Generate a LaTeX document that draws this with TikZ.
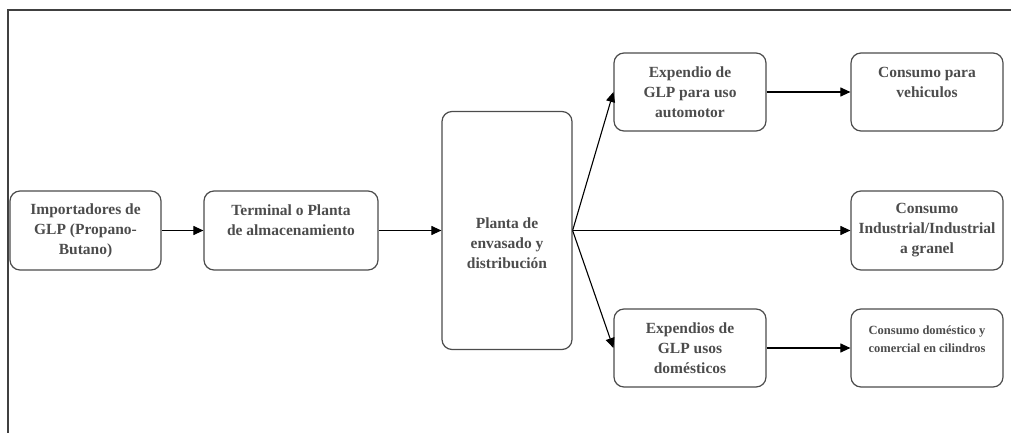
\documentclass[tikz,border=0pt]{standalone}
\usepackage{fontspec}
\setmainfont{Liberation Serif}
\usetikzlibrary{arrows.meta}

\tikzstyle{frame} = [draw,line width=1.4pt,black!75]
\tikzstyle{stage}=[draw,line width=1.2pt,black!70,rounded corners=10pt,align=center,inner sep=0pt,
  font=\fontsize{15.5}{20}\selectfont\bfseries]
\tikzstyle{smalltext}=[font=\fontsize{12.5}{18}\selectfont\bfseries]
\tikzstyle{arrowdecorate}=[->,>={Triangle[length=10pt,width=9pt]},line width=1.1pt]

\begin{document}
\begin{tikzpicture}[x=1pt,y=-1pt]
      \useasboundingbox (0,0) rectangle (1011,433);
      %frame
      \draw[frame] (8,433) |- (1011,10);
      %nodes
      \foreach \nodename/\x/\y/\w/\h/\txt in {
        imp/85.5/230.5/151/79/{Importadores de\\GLP (Propano-\\Butano)},
        term/291/230.5/174/79/{Terminal o Planta\\de almacenamiento\\\mbox{}},
        planta/507/230.5/130/238/{\mbox{}\\[15.5pt]Planta de\\envasado y\\distribución},
        expa/690/92/152/78/{Expendio de\\GLP para uso\\automotor},
        conv/927/92/152/78/{Consumo para\\vehiculos\\\mbox{}},
        coni/927/230.5/152/79/{Consumo\\Industrial/Industrial\\a granel},
        expd/690/348/152/78/{Expendios de\\GLP usos\\domésticos}}
      {
        \node[stage, minimum width=\w pt, minimum height=\h pt] (\nodename) at (\x,\y) {\txt};
      };
      \node[stage, smalltext, minimum width=152pt, minimum height=78pt] (cond) at (927,348)
        {Consumo doméstico y\\comercial en cilindros\\\mbox{}};
      %edges
      \path
      \foreach \startnode/\endnode in {
        imp/term, term/planta, planta/expa, planta/coni, planta/expd, expa/conv, expd/cond}
      {
        (\startnode.east) edge[arrowdecorate] (\endnode.west)
      };
    \end{tikzpicture}
\end{document}
